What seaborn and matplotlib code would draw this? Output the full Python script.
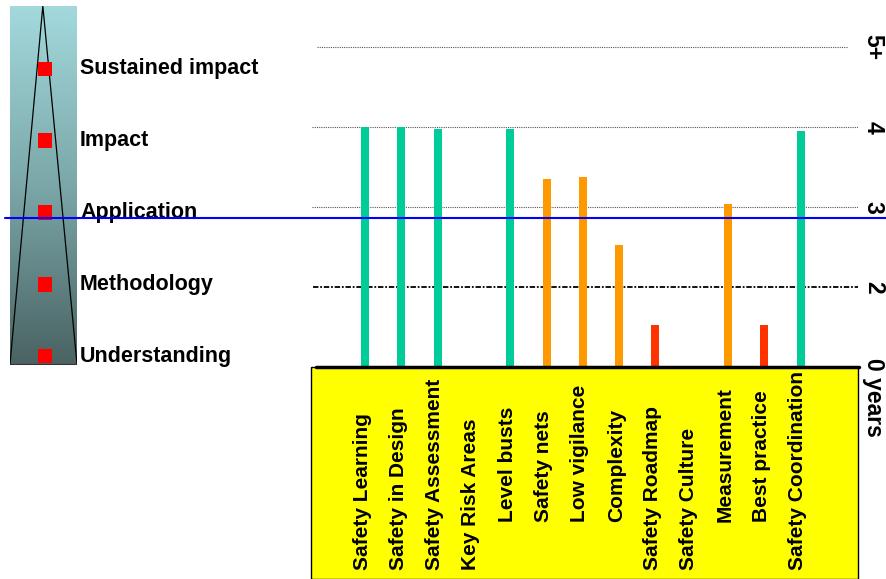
import numpy as np
import pandas as pd
import matplotlib
matplotlib.use("Agg")
import matplotlib.pyplot as plt
import matplotlib.transforms as mtransforms
from matplotlib.lines import Line2D
from matplotlib.patches import Rectangle
from matplotlib.colors import LinearSegmentedColormap
import seaborn as sns

# ---------------- data ----------------
categories = ["Safety Learning", "Safety in Design", "Safety Assessment", "Key Risk Areas",
              "Level busts", "Safety nets", "Low vigilance", "Complexity", "Safety Roadmap",
              "Safety Culture", "Measurement", "Best practice", "Safety Coordination"]
years = [4.0, 4.0, 3.98, 0.0, 3.98, 3.35, 3.38, 2.52, 1.05, 0.0, 3.04, 1.05, 3.95]
status = ["green", "green", "green", "none", "green", "orange", "orange", "orange",
          "red", "none", "orange", "red", "green"]
year_ticks = [0, 2, 3, 4, 5]
year_tick_labels = ["0 years", "2", "3", "4", "5+"]
levels = ["Understanding", "Methodology", "Application", "Impact", "Sustained impact"]
current_level = 2.86

# ---------------- style ----------------
palette = {"green": "#00CC99", "orange": "#FF9900", "red": "#FF3300", "none": "#FFFFFF"}
label_bottom_px = [570, 570, 570, 570, 522, 522, 522, 522, 570, 570, 522, 522, 570]

sns.set_style("white")
plt.rcParams["font.family"] = ["Liberation Sans", "DejaVu Sans"]
plt.rcParams["text.color"] = "black"

W, H = 887, 579
fig = plt.figure(figsize=(W / 100, H / 100), dpi=100)

# non-linear year axis: 0,2,3,4,5 equally spaced
_yr = np.array([0, 2, 3, 4, 5, 20], float)
_pos = np.array([0, 1, 2, 3, 4, 19], float)
def fwd(y):
    return np.interp(y, _yr, _pos)
def inv(p):
    return np.interp(p, _pos, _yr)

ax_l, ax_r, ax_b, ax_t = 311, 858, 367, 7
ax = fig.add_axes([ax_l / W, (H - ax_b) / H, (ax_r - ax_l) / W, (ax_b - ax_t) / H])
ax.patch.set_alpha(0)

df = pd.DataFrame({"category": categories, "years": years, "status": status})
sns.barplot(data=df, x="category", y="years", hue="status", palette=palette,
            order=categories, dodge=False, width=0.22, legend=False, ax=ax,
            saturation=1, linewidth=0)
ax.set_yscale("function", functions=(fwd, inv))
ax.set_ylim(0, inv(4.5))
ax.set_xlim(-1.49, 13.58)
ax.set_xticks([])
ax.set_yticks([])
ax.set_xlabel("")
ax.set_ylabel("")
for s in ax.spines.values():
    s.set_visible(False)

# gridlines
def frac(px):
    return (px - ax_l) / (ax_r - ax_l)
ax.axhline(5, xmin=frac(317), xmax=frac(847), color="#555555", lw=0.8, ls=(0, (1, 1)), zorder=0)
ax.axhline(4, xmin=frac(312), xmax=frac(858), color="#555555", lw=0.8, ls=(0, (1, 1)), zorder=0)
ax.axhline(3, xmin=frac(312), xmax=frac(858), color="#555555", lw=0.8, ls=(0, (1, 1)), zorder=0)
ax.axhline(2, xmin=frac(313), xmax=frac(860), color="black", lw=1.3, ls=(0, (3, 1, 1, 1)), zorder=0)
ax.axhline(0, xmin=frac(316), xmax=frac(859), color="black", lw=2.5, zorder=3, clip_on=False)

# yellow label box
fig.add_artist(Rectangle((ax_l / W, 0), (ax_r - ax_l) / W, (H - ax_b) / H,
                         transform=fig.transFigure, fc="#FFFF00", ec="black", lw=1, zorder=-1))

# category labels
xtrans = mtransforms.blended_transform_factory(ax.transData, ax.transAxes)
xtrans = mtransforms.offset_copy(xtrans, fig=fig, x=-3, y=0, units="dots")
for i, cat in enumerate(categories):
    yb = -(label_bottom_px[i] - ax_b) / (ax_b - ax_t)
    ax.text(i, yb, cat, transform=xtrans, rotation=90, ha="center", va="bottom",
            fontsize=15, fontweight="bold", color="black", clip_on=False)

# right year labels
ytrans = mtransforms.blended_transform_factory(ax.transAxes, ax.transData)
for yv, lab in zip(year_ticks, year_tick_labels):
    if yv == 0:
        tr = mtransforms.offset_copy(ytrans, fig=fig, x=0, y=9, units="dots")
        ax.text(1.007, yv, lab, transform=tr, rotation=-90, ha="left", va="top",
                fontsize=16.5, fontweight="bold", color="black", clip_on=False)
    else:
        ax.text(1.007, yv, lab, transform=ytrans, rotation=-90, ha="left", va="center",
                fontsize=16.5, fontweight="bold", color="black", clip_on=False)

# pyramid panel
pl, pr, pb, pt = 10, 77, 365, 6
pax = fig.add_axes([pl / W, (H - pb) / H, (pr - pl) / W, (pb - pt) / H])
cmap = LinearSegmentedColormap.from_list("pyr", ["#4A6262", "#7BA7A8", "#A3D9DD"])
pax.imshow(np.linspace(0, 1, 256).reshape(-1, 1), cmap=cmap, aspect="auto",
           extent=[0, 1, -0.125, 4.875], origin="lower")
pax.plot([0, 0.49, 1], [-0.11, 4.875, -0.11], color="black", lw=0.9)
pax.plot([0, 1], [-0.11, -0.11], color="#333333", lw=0.8)
sns.scatterplot(x=[0.52] * len(levels), y=list(range(len(levels))), marker="s", s=110,
                color="#FF0000", edgecolor="none", ax=pax, zorder=5)
for i, lev in enumerate(levels):
    pax.text((80 - pl) / (pr - pl), i, lev, ha="left", va="center", fontsize=15.5,
             fontweight="bold", color="black", clip_on=False)
pax.set_xlim(0, 1)
pax.set_ylim(-0.125, 4.875)
pax.axis("off")

# current level line across the figure
btrans = mtransforms.blended_transform_factory(fig.transFigure, ax.transData)
fig.add_artist(Line2D([5 / W, 1.0], [current_level, current_level], transform=btrans,
                      color="#0000FF", lw=1.5, zorder=10))

fig.savefig("out.png", dpi=100)
